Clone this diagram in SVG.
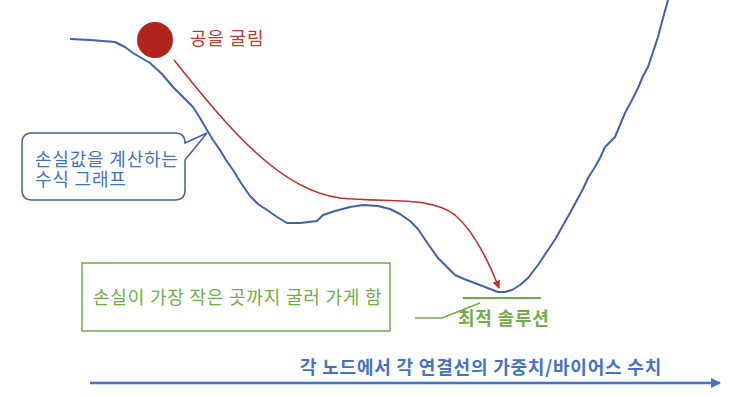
<svg xmlns="http://www.w3.org/2000/svg" width="750" height="397" viewBox="0 0 750 397">
<defs>
<style>
.t{font-family:"Noto Sans CJK KR","Noto Sans",sans-serif;font-size:18px;letter-spacing:0.8px}
.b{font-weight:bold}
.blue{fill:#4472C4}
.green{fill:#70AD47}
.red{fill:#C0392B}
</style>
<marker id="ar" viewBox="0 0 10 10" refX="9" refY="5" markerWidth="5" markerHeight="5" orient="auto" markerUnits="strokeWidth">
<path d="M0,0 L10,5 L0,10 z" fill="#C0302A"/>
</marker>
<marker id="ab" viewBox="0 0 10 10" refX="9" refY="5" markerWidth="4" markerHeight="4" orient="auto" markerUnits="strokeWidth">
<path d="M0,0 L10,5 L0,10 z" fill="#4472C4"/>
</marker>
</defs>
<rect width="750" height="397" fill="#fff"/>
<g id="curve">
<path d="M70,39 L90,40 L115,42 L125,47 L133,53 L150,63 L162,74 L173,87 L183,97 L193,107 L200,118 L207,130 L213,140 L220,150 L226,160 L233,170 L241,183 L250,196 L258,204 L267,210 L277,217 L287,223 L300,223 L317,221 L323,215 L335,211 L350,207 L363,205 L378,206 L390,209 L400,214 L410,221 L418,229 L428,244 L438,258 L447,267 L455,275 L464,279 L472,282 L485,287 L498,292 L505,292 L512,290 L520,285 L528,278 L538,265 L548,250 L556,238 L562,227 L570,213 L577,200 L583,189 L588,178 L595,167 L600,158 L605,147 L615,137 L620,125 L625,113 L632,100 L638,88 L643,76 L648,67 L653,52 L658,37 L663,18 L668,0" fill="none" stroke="#3F62A8" stroke-width="2" stroke-linejoin="round"/>
</g>
<g id="ball">
<circle cx="155" cy="40" r="18" fill="#B0241B"/>
<text class="t red" x="190" y="45">공을 굴림</text>
</g>
<g id="connectors">
<path d="M174,60 C230,130 280,190 340,198 C390,203 430,196 455,215 C475,232 490,265 499,288" fill="none" stroke="#C0302A" stroke-width="1.6" marker-end="url(#ar)"/>
<path d="M90,383 L720,383" fill="none" stroke="#4472C4" stroke-width="2.5" marker-end="url(#ab)"/>
<path d="M415,318 L442,318 L480,303" fill="none" stroke="#70AD47" stroke-width="1.5"/>
<path d="M463,298 L541,298" fill="none" stroke="#70AD47" stroke-width="1.8"/>
</g>
<g id="callout">
<path d="M32,133 L175,133 Q185,133 185,143 L207,133 L185,160 L185,190 Q185,200 175,200 L32,200 Q22,200 22,190 L22,143 Q22,133 32,133 Z" fill="#fff" stroke="#3F62A8" stroke-width="1.5"/>
<text class="t blue" x="35" y="166">손실값을 계산하는</text>
<text class="t blue" x="35" y="186">수식 그래프</text>
</g>
<g id="note">
<rect x="82" y="263" width="308" height="68" fill="#fff" stroke="#70AD47" stroke-width="1.5"/>
<text class="t green" x="93" y="304">손실이 가장 작은 곳까지 굴러 가게 함</text>
</g>
<g id="optimum">
<text class="t b green" x="458" y="325">최적 솔루션</text>
</g>
<g id="axis">
<text class="t b blue" x="300" y="374">각 노드에서 각 연결선의 가중치/바이어스 수치</text>
</g>
</svg>
